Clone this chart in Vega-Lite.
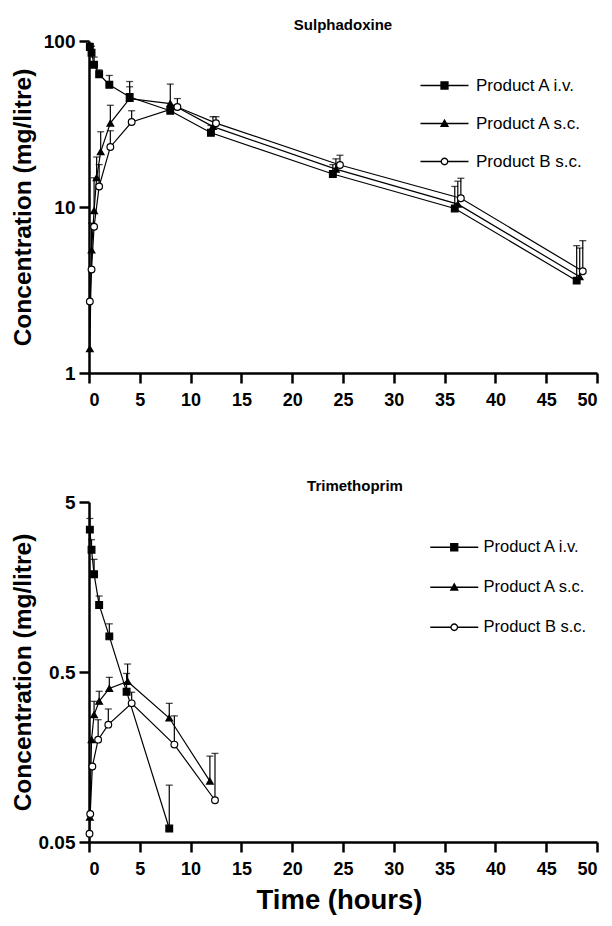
{
  "$schema": "https://vega.github.io/schema/vega-lite/v6.json",
  "background": "white",
  "padding": {"left": 10, "top": 18, "right": 2, "bottom": 2},
  "bounds": "flush",
  "spacing": 129,
  "datasets": {
    "pk": [
      {"p": "S", "s": "Product A i.v.", "t": 0.083, "c": 92, "hi": 97},
      {"p": "S", "s": "Product A i.v.", "t": 0.25, "c": 85, "hi": 93},
      {"p": "S", "s": "Product A i.v.", "t": 0.5, "c": 72, "hi": 80},
      {"p": "S", "s": "Product A i.v.", "t": 1, "c": 63, "hi": 67},
      {"p": "S", "s": "Product A i.v.", "t": 2, "c": 54.5, "hi": 62},
      {"p": "S", "s": "Product A i.v.", "t": 4, "c": 46, "hi": 57},
      {"p": "S", "s": "Product A i.v.", "t": 8, "c": 38, "hi": null},
      {"p": "S", "s": "Product A i.v.", "t": 12, "c": 28, "hi": 31},
      {"p": "S", "s": "Product A i.v.", "t": 24, "c": 15.8, "hi": 18},
      {"p": "S", "s": "Product A i.v.", "t": 36, "c": 9.8, "hi": 13.3},
      {"p": "S", "s": "Product A i.v.", "t": 48, "c": 3.6, "hi": 5.85},
      {"p": "S", "s": "Product A s.c.", "t": 0.083, "c": 1.4, "hi": null},
      {"p": "S", "s": "Product A s.c.", "t": 0.25, "c": 5.5, "hi": 8},
      {"p": "S", "s": "Product A s.c.", "t": 0.5, "c": 9.5, "hi": 15},
      {"p": "S", "s": "Product A s.c.", "t": 0.75, "c": 15, "hi": 20},
      {"p": "S", "s": "Product A s.c.", "t": 1.15, "c": 21.5, "hi": 28.4},
      {"p": "S", "s": "Product A s.c.", "t": 2.1, "c": 32, "hi": 41},
      {"p": "S", "s": "Product A s.c.", "t": 4, "c": 45, "hi": 53},
      {"p": "S", "s": "Product A s.c.", "t": 8, "c": 42, "hi": 55},
      {"p": "S", "s": "Product A s.c.", "t": 12.2, "c": 30.5, "hi": 35},
      {"p": "S", "s": "Product A s.c.", "t": 24.3, "c": 16.9, "hi": 19.5},
      {"p": "S", "s": "Product A s.c.", "t": 36.3, "c": 10.4, "hi": 14.3},
      {"p": "S", "s": "Product A s.c.", "t": 48.3, "c": 3.8, "hi": 5.66},
      {"p": "S", "s": "Product B s.c.", "t": 0.083, "c": 2.7, "hi": null},
      {"p": "S", "s": "Product B s.c.", "t": 0.25, "c": 4.2, "hi": null},
      {"p": "S", "s": "Product B s.c.", "t": 0.5, "c": 7.6, "hi": null},
      {"p": "S", "s": "Product B s.c.", "t": 1, "c": 13.3, "hi": 18},
      {"p": "S", "s": "Product B s.c.", "t": 2.1, "c": 23, "hi": 28.8},
      {"p": "S", "s": "Product B s.c.", "t": 4.2, "c": 32.5, "hi": 38},
      {"p": "S", "s": "Product B s.c.", "t": 8.7, "c": 40, "hi": 45},
      {"p": "S", "s": "Product B s.c.", "t": 12.5, "c": 32, "hi": 35},
      {"p": "S", "s": "Product B s.c.", "t": 24.7, "c": 17.9, "hi": 20.5},
      {"p": "S", "s": "Product B s.c.", "t": 36.6, "c": 11.3, "hi": 14.9},
      {"p": "S", "s": "Product B s.c.", "t": 48.6, "c": 4.1, "hi": 6.27},
      {"p": "T", "s": "Product A i.v.", "t": 0.083, "c": 3.44, "hi": 4.0},
      {"p": "T", "s": "Product A i.v.", "t": 0.25, "c": 2.62, "hi": 3.0},
      {"p": "T", "s": "Product A i.v.", "t": 0.5, "c": 1.88, "hi": 2.3},
      {"p": "T", "s": "Product A i.v.", "t": 1, "c": 1.24, "hi": 1.4},
      {"p": "T", "s": "Product A i.v.", "t": 2, "c": 0.81, "hi": 0.96},
      {"p": "T", "s": "Product A i.v.", "t": 3.7, "c": 0.383, "hi": 0.49},
      {"p": "T", "s": "Product A i.v.", "t": 7.9, "c": 0.06, "hi": 0.108},
      {"p": "T", "s": "Product A s.c.", "t": 0.083, "c": 0.07, "hi": null},
      {"p": "T", "s": "Product A s.c.", "t": 0.25, "c": 0.2, "hi": null},
      {"p": "T", "s": "Product A s.c.", "t": 0.5, "c": 0.28, "hi": 0.336},
      {"p": "T", "s": "Product A s.c.", "t": 1, "c": 0.336, "hi": 0.385},
      {"p": "T", "s": "Product A s.c.", "t": 2, "c": 0.4, "hi": 0.465},
      {"p": "T", "s": "Product A s.c.", "t": 3.8, "c": 0.44, "hi": 0.557},
      {"p": "T", "s": "Product A s.c.", "t": 7.9, "c": 0.268, "hi": 0.327},
      {"p": "T", "s": "Product A s.c.", "t": 11.9, "c": 0.114, "hi": 0.16},
      {"p": "T", "s": "Product B s.c.", "t": 0.05, "c": 0.056, "hi": null},
      {"p": "T", "s": "Product B s.c.", "t": 0.12, "c": 0.073, "hi": null},
      {"p": "T", "s": "Product B s.c.", "t": 0.33, "c": 0.139, "hi": null},
      {"p": "T", "s": "Product B s.c.", "t": 0.9, "c": 0.2, "hi": 0.262},
      {"p": "T", "s": "Product B s.c.", "t": 1.9, "c": 0.245, "hi": 0.303},
      {"p": "T", "s": "Product B s.c.", "t": 4.2, "c": 0.327, "hi": 0.38},
      {"p": "T", "s": "Product B s.c.", "t": 8.4, "c": 0.187, "hi": 0.276},
      {"p": "T", "s": "Product B s.c.", "t": 12.4, "c": 0.088, "hi": 0.166}
    ]
  },
  "config": {
    "font": "Liberation Sans",
    "view": {"stroke": null},
    "axis": {
      "grid": false,
      "domainColor": "black",
      "domainWidth": 2.5,
      "tickColor": "black",
      "tickWidth": 2.5,
      "tickSize": 10,
      "labelFont": "Liberation Sans",
      "labelFontWeight": "bold",
      "labelFontSize": 18,
      "labelColor": "black",
      "titleFont": "Liberation Sans",
      "titleFontWeight": "bold",
      "titleColor": "black"
    },
    "axisX": {"labelPadding": 8, "titleFontSize": 27.5, "titlePadding": 8},
    "axisY": {"labelPadding": 4, "labelFontSize": 19, "titleFontSize": 24.5, "titleX": -66, "titleBaseline": "middle"},
    "title": {"font": "Liberation Sans", "fontSize": 15, "fontWeight": "bold", "color": "black", "anchor": "middle", "offset": -1},
    "legend": {
      "orient": "none",
      "title": null,
      "padding": 0,
      "labelFont": "Liberation Sans",
      "labelFontSize": 17,
      "labelColor": "black",
      "symbolSize": 100,
      "symbolStrokeWidth": 1.3,
      "symbolStrokeColor": "black",
      "symbolOffset": 19,
      "labelOffset": 23,
      "rowPadding": 20
    }
  },
  "resolve": {
    "scale": {"shape": "independent", "fill": "independent", "stroke": "independent"},
    "legend": {"shape": "independent", "fill": "independent", "stroke": "independent"}
  },
  "vconcat": [
    {
      "width": 508,
      "height": 332,
      "title": {"text": "Sulphadoxine"},
      "data": {"name": "pk"},
      "transform": [{"filter": "datum.p === 'S'"}],
      "encoding": {
        "x": {"field": "t", "type": "quantitative", "scale": {"domain": [0, 50], "nice": false},
              "axis": {"values": [0, 5, 10, 15, 20, 25, 30, 35, 40, 45, 50], "title": null}},
        "y": {"field": "c", "type": "quantitative", "scale": {"type": "log", "domain": [1, 100], "nice": false},
              "axis": {"values": [1, 10, 100], "format": "~g", "title": "Concentration (mg/litre)"}}
      },
      "layer": [
        {"mark": {"type": "line", "color": "black", "strokeWidth": 1.2}, "encoding": {"detail": {"field": "s"}}},
        {"transform": [{"filter": "datum.hi != null"}], "mark": {"type": "rule", "color": "black", "strokeWidth": 1.2}, "encoding": {"y2": {"field": "hi"}}},
        {"transform": [{"filter": "datum.hi != null"}], "mark": {"type": "tick", "orient": "horizontal", "color": "black", "thickness": 1.3, "size": 7}, "encoding": {"y": {"field": "hi", "type": "quantitative"}}},
        {"mark": {"type": "point", "filled": true, "stroke": "black", "strokeWidth": 1.2, "size": 45, "opacity": 1},
         "encoding": {
           "shape": {"condition": [{"test": "datum.s === 'Product A i.v.'", "value": "square"}, {"test": "datum.s === 'Product A s.c.'", "value": "triangle-up"}], "value": "circle"},
           "fill": {"condition": {"test": "datum.s === 'Product B s.c.'", "value": "white"}, "value": "black"}
         }},
        {"transform": [{"filter": "false"}],
         "mark": {"type": "point", "filled": true, "strokeWidth": 1.3, "opacity": 1},
         "encoding": {
           "shape": {"field": "s", "type": "nominal",
             "scale": {"domain": ["Product A i.v.", "Product A s.c.", "Product B s.c."],
                       "range": ["M-4.8,0H4.8M-0.7,-0.7H0.7V0.7H-0.7Z", "M-4.8,0H4.8M0,-0.7L0.7,0.55H-0.7Z", "M-4.8,0H-0.65M0.65,0H4.8M-0.65,0A0.65,0.65 0 1,0 0.65,0A0.65,0.65 0 1,0 -0.65,0Z"]},
             "legend": {"legendX": 328, "legendY": 36}},
           "fill": {"field": "s", "type": "nominal",
             "scale": {"domain": ["Product A i.v.", "Product A s.c.", "Product B s.c."], "range": ["black", "black", "white"]},
             "legend": {"legendX": 328, "legendY": 36}},
           "stroke": {"field": "s", "type": "nominal",
             "scale": {"domain": ["Product A i.v.", "Product A s.c.", "Product B s.c."], "range": ["black", "black", "black"]},
             "legend": {"legendX": 328, "legendY": 36}}
         }}
      ]
    },
    {
      "width": 508,
      "height": 340,
      "title": {"text": "Trimethoprim", "dx": 12},
      "data": {"name": "pk"},
      "transform": [{"filter": "datum.p === 'T'"}],
      "encoding": {
        "x": {"field": "t", "type": "quantitative", "scale": {"domain": [0, 50], "nice": false},
              "axis": {"values": [0, 5, 10, 15, 20, 25, 30, 35, 40, 45, 50], "title": "Time (hours)", "titleX": 250}},
        "y": {"field": "c", "type": "quantitative", "scale": {"type": "log", "domain": [0.05, 5], "nice": false},
              "axis": {"values": [0.05, 0.5, 5], "format": "~g", "title": "Concentration (mg/litre)"}}
      },
      "layer": [
        {"mark": {"type": "line", "color": "black", "strokeWidth": 1.2}, "encoding": {"detail": {"field": "s"}}},
        {"transform": [{"filter": "datum.hi != null"}], "mark": {"type": "rule", "color": "black", "strokeWidth": 1.2}, "encoding": {"y2": {"field": "hi"}}},
        {"transform": [{"filter": "datum.hi != null"}], "mark": {"type": "tick", "orient": "horizontal", "color": "black", "thickness": 1.3, "size": 7}, "encoding": {"y": {"field": "hi", "type": "quantitative"}}},
        {"mark": {"type": "point", "filled": true, "stroke": "black", "strokeWidth": 1.2, "size": 45, "opacity": 1},
         "encoding": {
           "shape": {"condition": [{"test": "datum.s === 'Product A i.v.'", "value": "square"}, {"test": "datum.s === 'Product A s.c.'", "value": "triangle-up"}], "value": "circle"},
           "fill": {"condition": {"test": "datum.s === 'Product B s.c.'", "value": "white"}, "value": "black"}
         }},
        {"transform": [{"filter": "false"}],
         "mark": {"type": "point", "filled": true, "strokeWidth": 1.3, "opacity": 1},
         "encoding": {
           "shape": {"field": "s", "type": "nominal",
             "scale": {"domain": ["Product A i.v.", "Product A s.c.", "Product B s.c."],
                       "range": ["M-4.8,0H4.8M-0.7,-0.7H0.7V0.7H-0.7Z", "M-4.8,0H4.8M0,-0.7L0.7,0.55H-0.7Z", "M-4.8,0H-0.65M0.65,0H4.8M-0.65,0A0.65,0.65 0 1,0 0.65,0A0.65,0.65 0 1,0 -0.65,0Z"]},
             "legend": {"legendX": 338, "legendY": 37, "rowPadding": 23, "labelOffset": 21, "labelFontSize": 16.5}},
           "fill": {"field": "s", "type": "nominal",
             "scale": {"domain": ["Product A i.v.", "Product A s.c.", "Product B s.c."], "range": ["black", "black", "white"]},
             "legend": {"legendX": 338, "legendY": 37, "rowPadding": 23, "labelOffset": 21, "labelFontSize": 16.5}},
           "stroke": {"field": "s", "type": "nominal",
             "scale": {"domain": ["Product A i.v.", "Product A s.c.", "Product B s.c."], "range": ["black", "black", "black"]},
             "legend": {"legendX": 338, "legendY": 37, "rowPadding": 23, "labelOffset": 21, "labelFontSize": 16.5}}
         }}
      ]
    }
  ]
}
